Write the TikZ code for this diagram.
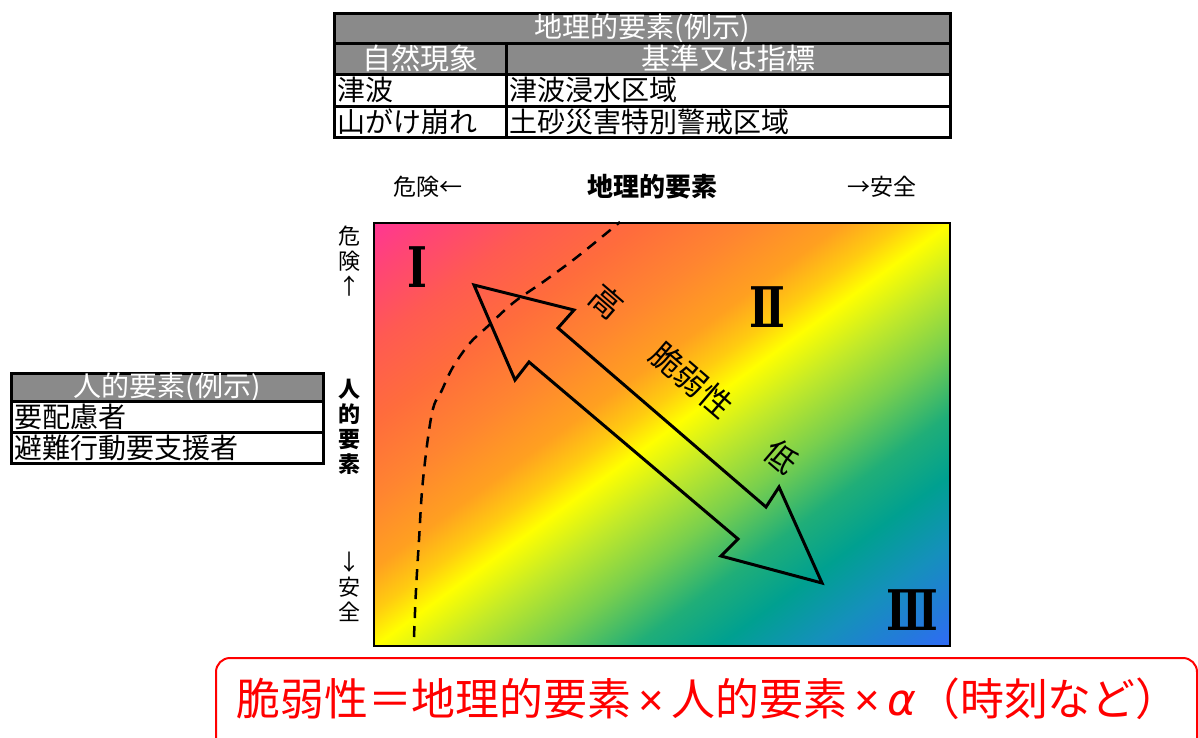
\documentclass[tikz,border=0pt]{standalone}
\usepackage{fontspec}
\setmainfont{Noto Sans CJK JP}
\newfontfamily\romanfont{DejaVu Serif}
\newfontfamily\greekfont{DejaVu Sans}
\newfontfamily\timesfont{Liberation Sans}
\newcommand\myfs[1]{\fontsize{#1pt}{#1pt}\selectfont}
\newcommand\narrow[1]{\scalebox{0.76}[1]{#1}}
\definecolor{hgray}{HTML}{8A8A8A}
\definecolor{ga}{HTML}{FF3399}
\definecolor{gb}{HTML}{FF4575}
\definecolor{gc}{HTML}{FF5A52}
\definecolor{gd}{HTML}{FF6C3C}
\definecolor{ge}{HTML}{FF8530}
\definecolor{gf}{HTML}{FFA020}
\definecolor{gg}{HTML}{FFCC10}
\definecolor{gh}{HTML}{FFFF00}
\definecolor{gi}{HTML}{C4EA28}
\definecolor{gj}{HTML}{78CF4E}
\definecolor{gk}{HTML}{20AE78}
\definecolor{gl}{HTML}{00A090}
\definecolor{gm}{HTML}{1590BC}
\definecolor{gn}{HTML}{2479DC}
\definecolor{go}{HTML}{3366FF}
\pgfdeclarehorizontalshading{vuln}{100bp}{color(0bp)=(ga); color(14bp)=(ga); color(19bp)=(gb); color(24.8bp)=(gc); color(31.3bp)=(gd); color(37.8bp)=(ge); color(43.5bp)=(gf); color(47.1bp)=(gg); color(50bp)=(gh); color(54.3bp)=(gi); color(60.1bp)=(gj); color(65.8bp)=(gk); color(70.9bp)=(gl); color(76.6bp)=(gm); color(81.7bp)=(gn); color(86bp)=(go); color(100bp)=(go)}
\begin{document}
\begin{tikzpicture}[x=1pt,y=-1pt,
  hcell/.style={draw=black, line width=2.5pt, fill=hgray, text=white, inner sep=0pt, anchor=north west},
  bcell/.style={draw=black, line width=2.5pt, fill=white, text=black, inner xsep=3pt, inner ysep=0pt, anchor=north west, align=left},
  axl/.style={font=\myfs{23}, inner sep=0pt},
  vax/.style={align=center, inner sep=0pt},
  roman/.style={font=\romanfont\bfseries\myfs{56}, inner sep=0pt},
  diag/.style={font=\myfs{32}, rotate=-40.7, inner sep=0pt}
]
\useasboundingbox (0,0) rectangle (1198,737);
\clip (0,0) rectangle (1198,737);

% top table
\node[hcell, minimum width=616pt, minimum height=30pt, font=\myfs{28}] (gt) at (333,12) {地理的要素(例示)};
\node[hcell, minimum width=172pt, minimum height=31pt, font=\myfs{29}] (gh1) at (333,42) {自然現象};
\node[hcell, minimum width=444pt, minimum height=31pt, font=\myfs{29}] (gh2) at (505,42) {基準又は指標};
\node[bcell, minimum width=172pt, minimum height=32pt, text width=166pt, font=\myfs{28}] (r1a) at (333,73) {津波};
\node[bcell, minimum width=444pt, minimum height=32pt, text width=438pt, font=\myfs{28}] (r1b) at (505,73) {津波浸水区域};
\node[bcell, minimum width=172pt, minimum height=31pt, text width=166pt, font=\myfs{28}] (r2a) at (333,105) {山がけ崩れ};
\node[bcell, minimum width=444pt, minimum height=31pt, text width=438pt, font=\myfs{28}] (r2b) at (505,105) {土砂災害特別警戒区域};

% left table
\node[hcell, minimum width=312pt, minimum height=28pt, font=\myfs{28}] (ht) at (10,372) {人的要素(例示)};
\node[bcell, minimum width=312pt, minimum height=31pt, text width=306pt, font=\myfs{28}] (h1) at (10,400) {要配慮者};
\node[bcell, minimum width=312pt, minimum height=31pt, text width=306pt, font=\myfs{28}] (h2) at (10,431) {避難行動要支援者};

% axis labels
\node[axl] (xd) at (428,187) {危険←};
\node[axl, font=\myfs{26}\bfseries] (xt) at (652,187) {地理的要素};
\node[axl] (xs) at (882,187) {→安全};
\node[vax, font=\fontsize{22pt}{25pt}\selectfont] (yd) at (349,261) {危\\険\\↑};
\node[vax, font=\fontsize{22pt}{25pt}\selectfont\bfseries] (yt) at (349,427) {人\\的\\要\\素};
\node[vax, font=\fontsize{22pt}{25pt}\selectfont] (ys) at (349,587) {↓\\安\\全};

% gradient plane
\node[draw=black, line width=2pt, shade, shading=vuln, shading angle=-53.7, minimum width=576pt, minimum height=423pt, inner sep=0pt, anchor=north west] (plane) at (373,222) {};

% dashed boundary
\draw[line width=2.5pt, dash pattern=on 11pt off 8pt] plot[smooth, tension=0.6] coordinates {(414,637) (416,590) (419,540) (423,480) (432,413) (442,390) (453,367) (470,343) (487,327) (513,303) (543,282) (577,257) (620,222)};

% roman numerals
\node[roman] (n1) at (417,267) {\narrow{Ⅰ}};
\node[roman] (n2) at (767,307) {\narrow{Ⅱ}};
\node[roman] (n3) at (912,610) {\narrow{Ⅲ}};

% double arrow
\draw[line width=3pt, line join=miter] (474,285) -- (574,310) -- (558,328) -- (766,507) -- (779,487) -- (822,583) -- (721,556) -- (738,539) -- (529,362) -- (515,380) -- cycle;
\node[diag] (hi) at (607,302) {高};
\node[diag] (vu) at (692,380) {脆弱性};
\node[diag] (lo) at (782,457) {低};

% formula box
\node[draw=red, line width=2pt, rounded corners=14pt, minimum width=981pt, minimum height=133pt, anchor=north west] (fbox) at (215,657) {};
\node[text=red, font=\myfs{44}, inner sep=0pt] (formula) at (708,699) {\resizebox{943pt}{\height}{脆弱性＝地理的要素{\timesfont\,×\,}人的要素{\timesfont\,×\,}{\greekfont\itshape α}（時刻など）}};
\end{tikzpicture}
\end{document}
